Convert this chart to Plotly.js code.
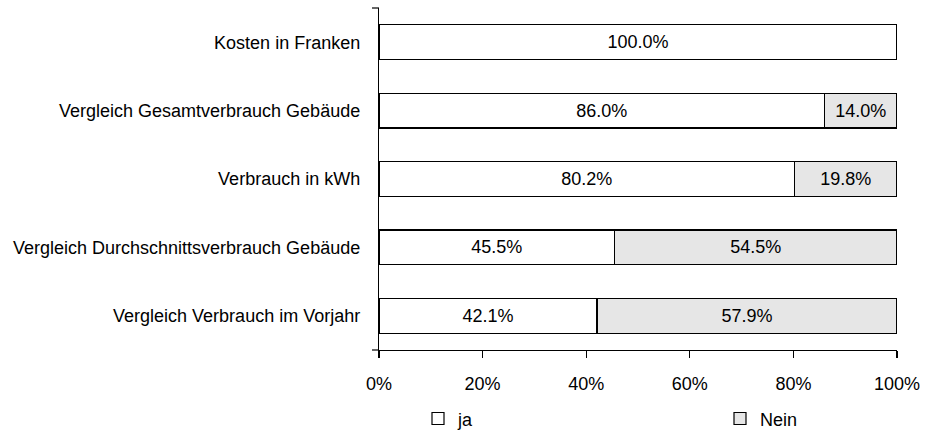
<!DOCTYPE html>
<html>
<head>
<meta charset="utf-8">
<script src="https://cdn.plot.ly/plotly-3.0.1.min.js"></script>
<style>
html,body{margin:0;padding:0;background:#fff;}
#chart{width:929px;height:434px;}
</style>
</head>
<body>
<div id="chart"></div>
<script>
const categories = [
  'Kosten in Franken',
  'Vergleich Gesamtverbrauch Gebäude',
  'Verbrauch in kWh',
  'Vergleich Durchschnittsverbrauch Gebäude',
  'Vergleich Verbrauch im Vorjahr'
];
const jaValues = [100.0, 86.0, 80.2, 45.5, 42.1];
const neinValues = [0.0, 14.0, 19.8, 54.5, 57.9];
const xTickValues = [0, 20, 40, 60, 80, 100];
const xTickLabels = ['0%', '20%', '40%', '60%', '80%', '100%'];

const FONT = 'Liberation Sans, Arial, sans-serif';
const label = v => (v > 0 ? v.toFixed(1) + '%' : '');

const common = {
  type: 'bar',
  orientation: 'h',
  y: categories,
  textposition: 'inside',
  insidetextanchor: 'middle',
  textangle: 0,
  constraintext: 'none',
  textfont: {family: FONT, size: 18, color: '#000'},
  hoverinfo: 'skip'
};

const traces = [
  Object.assign({}, common, {
    name: 'ja',
    legend: 'legend',
    x: jaValues,
    text: jaValues.map(label),
    marker: {color: '#ffffff', line: {color: '#000', width: 1.2}}
  }),
  Object.assign({}, common, {
    name: 'Nein',
    legend: 'legend2',
    x: neinValues,
    text: neinValues.map(label),
    marker: {color: '#e6e6e6', line: {color: '#000', width: 1.2}}
  })
];

const legendCommon = {
  orientation: 'h',
  xref: 'container',
  yref: 'container',
  xanchor: 'left',
  yanchor: 'middle',
  y: 0.035,
  bgcolor: 'rgba(0,0,0,0)',
  font: {family: FONT, size: 18, color: '#000'}
};

// small end ticks on the value-category axis (axis decoration, paper coords)
const endTick = yy => ({
  type: 'line', xref: 'paper', yref: 'paper',
  xsizemode: 'pixel', xanchor: 0, x0: -7, x1: 0,
  y0: yy, y1: yy,
  line: {color: '#000', width: 1.2}
});

const layout = {
  width: 929,
  height: 434,
  margin: {l: 379, r: 32, t: 8, b: 84, autoexpand: false},
  paper_bgcolor: '#fff',
  plot_bgcolor: '#fff',
  barmode: 'stack',
  bargap: 0.49,
  font: {family: FONT, size: 18, color: '#000'},
  showlegend: true,
  legend: Object.assign({}, legendCommon, {x: 418 / 929}),
  legend2: Object.assign({}, legendCommon, {x: 720 / 929}),
  shapes: [endTick(1), endTick(0)],
  xaxis: {
    range: [0, 100],
    tickmode: 'array',
    tickvals: xTickValues,
    ticktext: xTickLabels,
    ticks: 'outside',
    ticklen: 7,
    tickwidth: 1.2,
    tickcolor: '#000',
    showline: true,
    linecolor: '#000',
    linewidth: 1.2,
    showgrid: false,
    zeroline: false,
    ticklabelstandoff: 10,
    tickfont: {family: FONT, size: 18, color: '#000'},
    fixedrange: true
  },
  yaxis: {
    type: 'category',
    autorange: 'reversed',
    ticks: '',
    showline: true,
    linecolor: '#000',
    linewidth: 1.2,
    showgrid: false,
    zeroline: false,
    ticklabelstandoff: 14,
    tickfont: {family: FONT, size: 18, color: '#000'},
    fixedrange: true
  },
  hovermode: false
};

Plotly.newPlot('chart', traces, layout, {displayModeBar: false, staticPlot: true});
</script>
</body>
</html>
